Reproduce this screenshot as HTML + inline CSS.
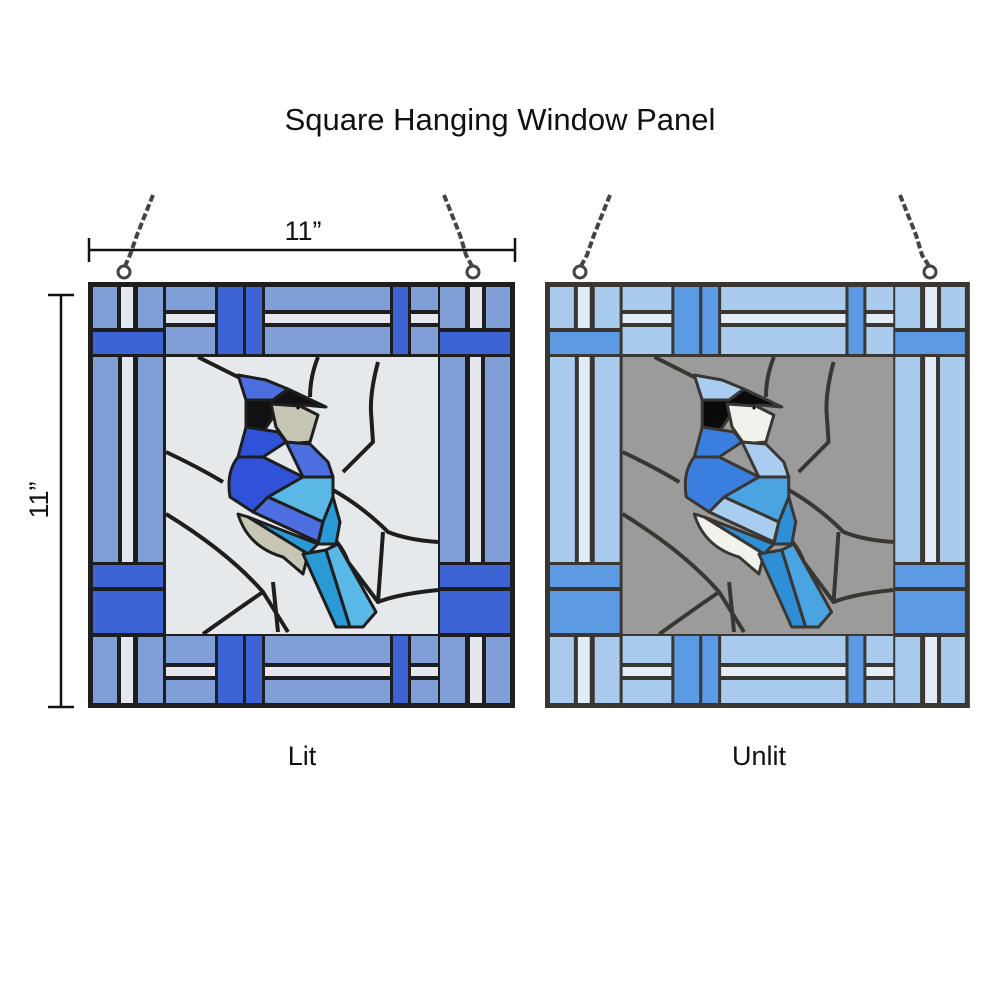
<!DOCTYPE html>
<html><head><style>
html,body{margin:0;padding:0;background:#fff;width:1000px;height:1000px;overflow:hidden}
svg{position:absolute;left:0;top:0}
.t{font-family:"Liberation Sans",sans-serif;fill:#111}
#lp{--L:#7f9fd6;--D:#3c64d4;--W:#e4e8ee;--C:#e6e9ec;--B1:#2f52d8;--B2:#4d6ee0;--T:#2a9ad6;--T2:#5ab8e6;--H:#c7c6b4;--K:#111;--lead:#1e1e1e}
#rp{--L:#a8cbee;--D:#5c9ae4;--W:#e2ecf7;--C:#9b9b9b;--B1:#3a7ee0;--B2:#a9cdf0;--T:#2f8fd6;--T2:#4aa4e2;--H:#f2f2ec;--K:#0a0a0a;--lead:#3a3632}
</style></head><body>
<svg width="1000" height="1000" viewBox="0 0 1000 1000">
<defs>
<g id="panel">
<rect x="0" y="0" width="427" height="426" fill="var(--lead)"/>
<rect x="78" y="75" width="272" height="277" fill="var(--C)"/>
<g id="corner">
<rect x="5" y="5" width="24" height="41" fill="var(--L)"/>
<rect x="33" y="5" width="12" height="41" fill="var(--W)"/>
<rect x="50" y="5" width="25" height="41" fill="var(--L)"/>
<rect x="5" y="50" width="70" height="22" fill="var(--D)"/>
</g>
<g id="band">
<rect x="78" y="5" width="49" height="23" fill="var(--L)"/>
<rect x="78" y="32" width="49" height="9" fill="var(--W)"/>
<rect x="78" y="45" width="49" height="27" fill="var(--L)"/>
<rect x="130" y="5" width="25" height="67" fill="var(--D)"/>
<rect x="158" y="5" width="16" height="67" fill="var(--D)"/>
<rect x="177" y="5" width="125" height="23" fill="var(--L)"/>
<rect x="177" y="32" width="125" height="9" fill="var(--W)"/>
<rect x="177" y="45" width="125" height="27" fill="var(--L)"/>
<rect x="305" y="5" width="15" height="67" fill="var(--D)"/>
<rect x="323" y="5" width="27" height="23" fill="var(--L)"/>
<rect x="323" y="32" width="27" height="9" fill="var(--W)"/>
<rect x="323" y="45" width="27" height="27" fill="var(--L)"/>
</g>
<use href="#corner" transform="translate(427,0) scale(-1,1)"/>
<g id="side">
<rect x="5" y="75" width="25" height="205" fill="var(--L)"/>
<rect x="34" y="75" width="11" height="205" fill="var(--W)"/>
<rect x="50" y="75" width="25" height="205" fill="var(--L)"/>
<rect x="5" y="283" width="70" height="22" fill="var(--D)"/>
<rect x="5" y="309" width="70" height="42" fill="var(--D)"/>
</g>
<use href="#side" transform="translate(427,0) scale(-1,1)"/>
<g id="bcorner">
<rect x="5" y="355" width="24" height="66" fill="var(--L)"/>
<rect x="33" y="355" width="12" height="66" fill="var(--W)"/>
<rect x="50" y="355" width="25" height="66" fill="var(--L)"/>
</g>
<use href="#bcorner" transform="translate(427,0) scale(-1,1)"/>
<use href="#band" transform="translate(0,426) scale(1,-1)"/>
<g fill="none" stroke="var(--lead)" stroke-width="4" stroke-linejoin="round">
<path d="M110 75 Q130 85 160 100"/>
<path d="M230 75 Q222 95 222 115"/>
<path d="M290 80 Q282 110 283 130 L285 160 Q270 175 255 190"/>
<path d="M78 170 Q110 185 135 200"/>
<path d="M78 232 Q140 270 175 310 L200 350"/>
<path d="M245 208 Q275 225 300 250 Q320 258 350 260"/>
<path d="M240 250 Q255 265 260 280 L290 320"/>
<path d="M295 250 L290 320 Q310 312 350 308"/>
<path d="M175 310 Q160 320 115 352"/>
<path d="M185 300 L190 350"/>
</g>
<g stroke="var(--lead)" stroke-width="3" stroke-linejoin="round">
<path d="M150 93 L178 98 L200 107 L185 118 L158 118 Z" fill="var(--B2)"/>
<path d="M158 118 L185 118 L200 107 L238 125 L215 123 L190 128 L175 150 L158 145 Z" fill="var(--K)"/>
<path d="M183 122 L212 124 L230 133 L222 160 L200 162 L188 145 Z" fill="var(--H)"/>
<path d="M158 145 L190 150 L198 160 L175 175 L150 175 Z" fill="var(--B1)"/>
<path d="M198 160 L222 162 L240 180 L245 195 L215 195 Z" fill="var(--B2)"/>
<path d="M150 175 L175 175 L215 195 L180 215 L165 230 L142 215 Q138 190 150 175 Z" fill="var(--B1)"/>
<path d="M180 215 L215 195 L245 195 L245 215 L235 240 Z" fill="var(--T2)"/>
<path d="M165 230 L180 215 L235 240 L230 260 Z" fill="var(--B2)"/>
<path d="M160 235 L230 262 L220 272 Z" fill="var(--T)"/>
<path d="M150 232 L160 235 L220 272 L215 292 L195 275 Q160 265 150 232 Z" fill="var(--H)"/>
<path d="M235 240 L245 215 L252 240 L248 262 L230 262 Z" fill="var(--T)"/>
<path d="M215 272 L238 268 L262 345 L248 345 Z" fill="var(--T)"/>
<path d="M238 268 L250 262 L288 330 L275 345 L262 345 Z" fill="var(--T2)"/>
</g>
<circle cx="210" cy="126" r="1.5" fill="#000"/>
</g>
</defs>

<text class="t" x="500" y="130" font-size="31" text-anchor="middle">Square Hanging Window Panel</text>

<g stroke="#111" stroke-width="2.5">
<line x1="89" y1="250" x2="515" y2="250"/>
<line x1="89" y1="238" x2="89" y2="262"/>
<line x1="515" y1="238" x2="515" y2="262"/>
<line x1="61" y1="295" x2="61" y2="707"/>
<line x1="48" y1="295" x2="74" y2="295"/>
<line x1="48" y1="707" x2="74" y2="707"/>
</g>
<text class="t" x="303" y="240" font-size="27" text-anchor="middle">11”</text>
<text class="t" font-size="27" text-anchor="middle" transform="translate(48,500) rotate(-90)">11”</text>

<g fill="none" stroke="#444" stroke-width="4" stroke-dasharray="7 3">
<path d="M153 195 L145 215 L137 235 L130 255 L125 266"/>
<path d="M444 195 L452 215 L460 235 L466 255 L472 266"/>
<path d="M610 195 L602 215 L594 235 L587 255 L581 266"/>
<path d="M900 195 L908 215 L916 235 L922 255 L929 266"/>
</g>
<g fill="none" stroke="#444" stroke-width="3">
<circle cx="124" cy="272" r="6"/><circle cx="473" cy="272" r="6"/>
<circle cx="580" cy="272" r="6"/><circle cx="930" cy="272" r="6"/>
</g>

<g id="lp" transform="translate(88,282)"><use href="#panel"/></g>
<g id="rp" transform="translate(545,282) scale(0.995,1)"><use href="#panel"/></g>

<text class="t" x="302" y="765" font-size="27" text-anchor="middle">Lit</text>
<text class="t" x="759" y="765" font-size="27" text-anchor="middle">Unlit</text>
</svg>
</body></html>
